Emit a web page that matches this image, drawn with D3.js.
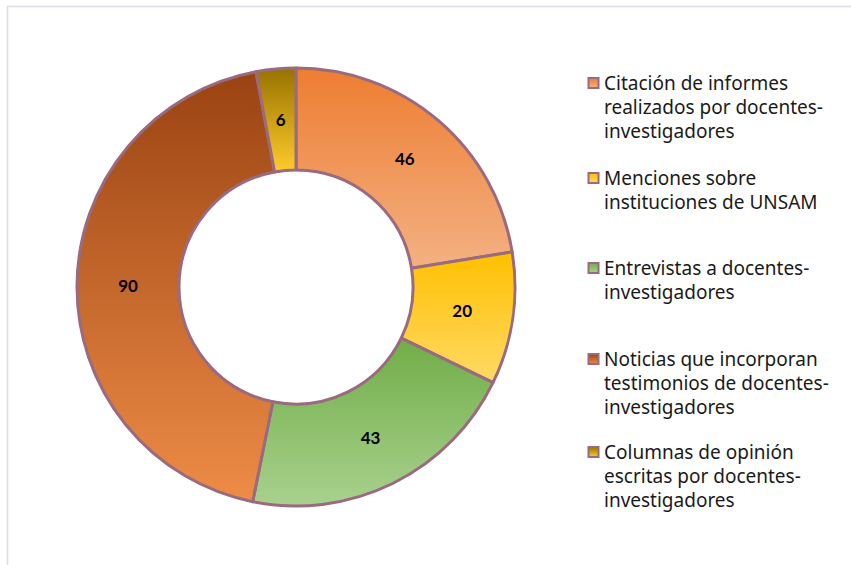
<!DOCTYPE html>
<html lang="es">
<head>
<meta charset="utf-8">
<title>Donut</title>
<script src="https://d3js.org/d3.v7.min.js"></script>
<style>
  body { margin: 0; background: #fff; }
  .legend_text { font-family: "Noto Sans", sans-serif; font-size: 19px; fill: #1a1a1a; }
  .value_label { font-family: Lato, sans-serif; font-weight: bold; font-size: 17px; fill: #000; }
</style>
</head>
<body>
<svg id="chart" width="851" height="565"></svg>
<script>
// data
const categories = [
  ["Citación de informes", "realizados por docentes-", "investigadores"],
  ["Menciones sobre", "instituciones de UNSAM"],
  ["Entrevistas a docentes-", "investigadores"],
  ["Noticias que incorporan", "testimonios de docentes-", "investigadores"],
  ["Columnas de opinión", "escritas por docentes-", "investigadores"]
];
const values = [46, 20, 43, 90, 6];
// gradient top / bottom colour per slice
const topColors = ["#ED7D31", "#FFC000", "#70AD47", "#9A4312", "#977200"];
const bottomColors = ["#F4B183", "#FFD966", "#A9D18E", "#EE8C47", "#FFCB2C"];

const svg = d3.select("#chart");
const cx = 296, cy = 287;
const outerR = 219, innerR = 117;

// frame (only top and left edges show)
svg.append("rect")
  .attr("x", 7.5).attr("y", 6.5)
  .attr("width", 900).attr("height", 600)
  .style("fill", "none")
  .style("stroke", "#DCDCE4")
  .style("stroke-width", 1.5);

// gradients
const defs = svg.append("defs");
values.forEach((v, i) => {
  const g = defs.append("linearGradient")
    .attr("id", "grad" + i)
    .attr("x1", 0).attr("y1", 0).attr("x2", 0).attr("y2", 1);
  g.append("stop").attr("offset", "0%").attr("stop-color", topColors[i]);
  g.append("stop").attr("offset", "100%").attr("stop-color", bottomColors[i]);
});

const pie = d3.pie().sort(null).value(d => d);
const arc = d3.arc().innerRadius(innerR).outerRadius(outerR);
const labelArc = d3.arc().innerRadius((innerR + outerR) / 2).outerRadius((innerR + outerR) / 2);

const g = svg.append("g").attr("transform", `translate(${cx},${cy})`);

g.selectAll("path")
  .data(pie(values))
  .enter()
  .append("path")
  .attr("d", arc)
  .style("fill", (d, i) => `url(#grad${i})`)
  .style("stroke", "#9A6A80")
  .style("stroke-width", 3)
  .style("stroke-linejoin", "round");

g.selectAll("text")
  .data(pie(values))
  .enter()
  .append("text")
  .attr("class", "value_label")
  .attr("transform", d => `translate(${labelArc.centroid(d)})`)
  .attr("text-anchor", "middle")
  .attr("dy", "0.35em")
  .text(d => d.data);

// legend
const legendY = [83, 178, 268, 359, 452];
const lineH = 24.3;
const legend = svg.append("g");

legend.selectAll("rect")
  .data(categories)
  .enter()
  .append("rect")
  .attr("x", 588.5)
  .attr("y", (d, i) => legendY[i] - 5)
  .attr("width", 10)
  .attr("height", 10)
  .style("fill", (d, i) => `url(#grad${i})`)
  .style("stroke", "#9A6A80")
  .style("stroke-width", 2);

legend.selectAll("text")
  .data(categories)
  .enter()
  .append("text")
  .attr("class", "legend_text")
  .attr("x", 604)
  .attr("y", (d, i) => legendY[i])
  .each(function(lines) {
    d3.select(this).selectAll("tspan")
      .data(lines)
      .enter()
      .append("tspan")
      .attr("x", 604)
      .attr("dy", (l, j) => j === 0 ? "0.35em" : lineH)
      .text(l => l);
  });
</script>
</body>
</html>
